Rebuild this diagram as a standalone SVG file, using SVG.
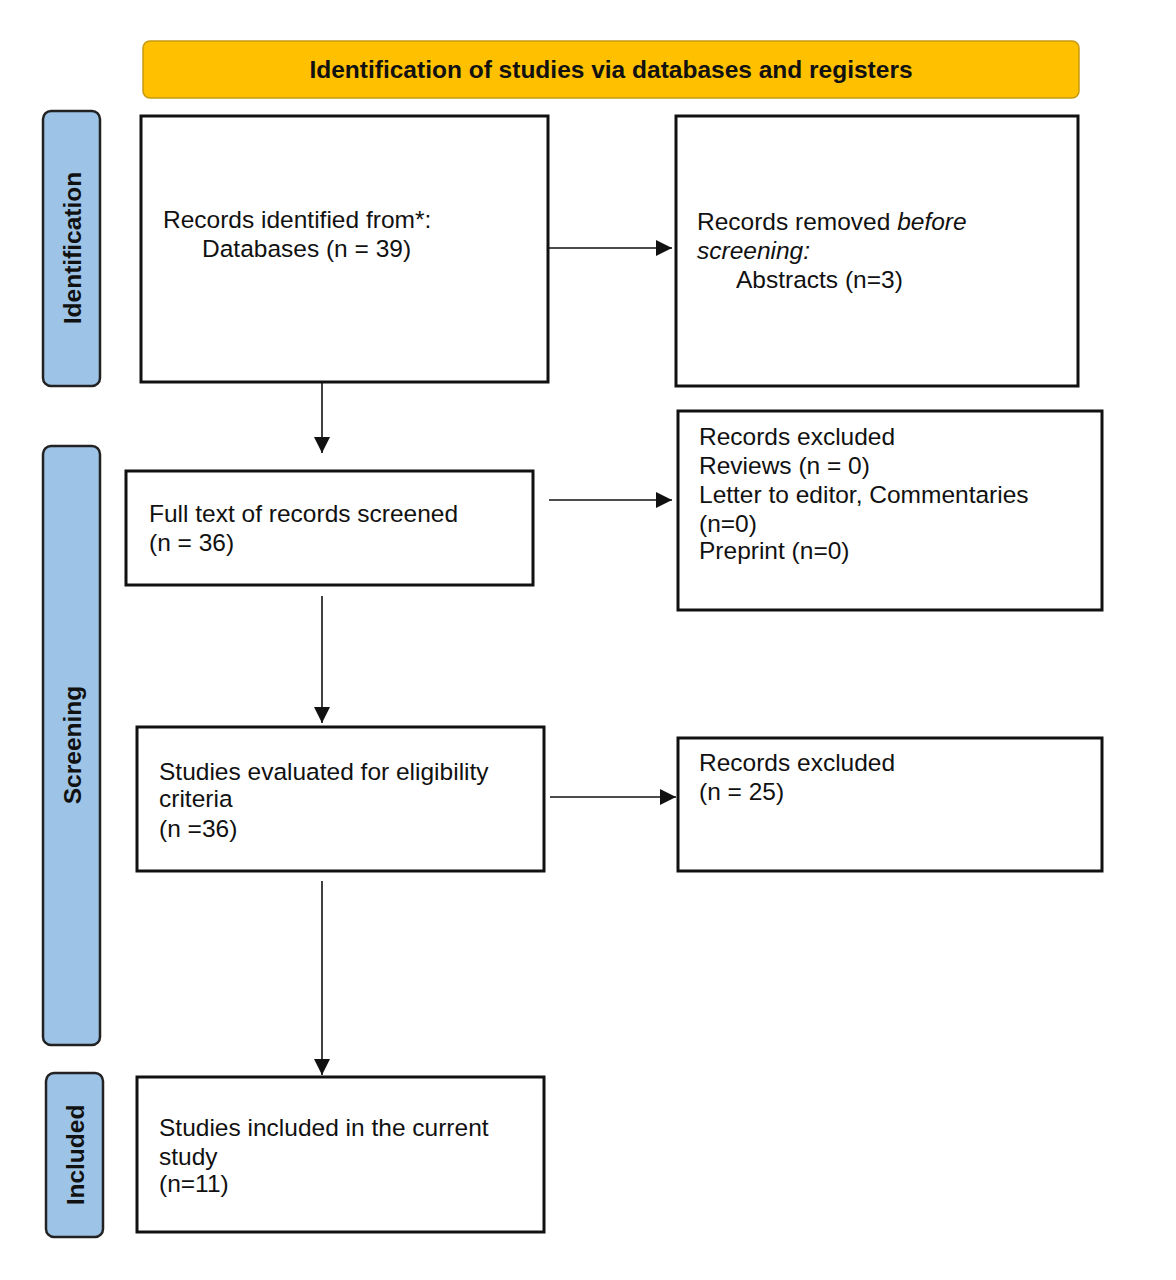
<svg xmlns="http://www.w3.org/2000/svg" width="1176" height="1280" viewBox="0 0 1176 1280">
<style>
.box{fill:#fff;stroke:#111;stroke-width:3}
.side{fill:#9DC3E6;stroke:#222;stroke-width:2.5}
.t{font-family:"Liberation Sans",Arial,sans-serif;font-size:24.5px;fill:#111}
.st{font-family:"Liberation Sans",Arial,sans-serif;font-size:24.5px;font-weight:bold;fill:#111}
.c{stroke:#111;stroke-width:1.6;fill:none;marker-end:url(#ah)}
</style>
<defs>
<marker id="ah" viewBox="0 0 10 10" refX="10" refY="5" markerWidth="16" markerHeight="16" markerUnits="userSpaceOnUse" orient="auto">
<path d="M0,0 L10,5 L0,10 z" fill="#111"/>
</marker>
</defs>
<rect width="1176" height="1280" fill="#fff"/>
<g id="banner">
<rect x="143" y="41" width="936" height="57" rx="7" fill="#FFC000" stroke="#C89A10" stroke-width="1.5"/>
<text class="st" x="611" y="78" text-anchor="middle">Identification of studies via databases and registers</text>
</g>
<g id="side-identification">
<rect class="side" x="43" y="111" width="57" height="275" rx="8"/>
<text class="st" transform="translate(81,248) rotate(-90)" text-anchor="middle">Identification</text>
</g>
<g id="side-screening">
<rect class="side" x="43" y="446" width="57" height="599" rx="8"/>
<text class="st" transform="translate(81,745) rotate(-90)" text-anchor="middle">Screening</text>
</g>
<g id="side-included">
<rect class="side" x="46" y="1073" width="57" height="164" rx="8"/>
<text class="st" transform="translate(84,1155) rotate(-90)" text-anchor="middle">Included</text>
</g>
<g id="n-identified">
<rect class="box" x="141" y="116" width="407" height="266"/>
<text class="t" x="163" y="228">Records identified from*:</text>
<text class="t" x="202" y="257">Databases (n = 39)</text>
</g>
<g id="n-removed">
<rect class="box" x="676" y="116" width="402" height="270"/>
<text class="t" x="697" y="230">Records removed <tspan font-style="italic">before</tspan></text>
<text class="t" x="697" y="259" font-style="italic">screening:</text>
<text class="t" x="736" y="288">Abstracts (n=3)</text>
</g>
<g id="n-fulltext">
<rect class="box" x="126" y="471" width="407" height="114"/>
<text class="t" x="149" y="522">Full text of records screened</text>
<text class="t" x="149" y="551">(n = 36)</text>
</g>
<g id="n-excluded1">
<rect class="box" x="678" y="411" width="424" height="199"/>
<text class="t" x="699" y="445">Records excluded</text>
<text class="t" x="699" y="474">Reviews (n = 0)</text>
<text class="t" x="699" y="503">Letter to editor, Commentaries</text>
<text class="t" x="699" y="532">(n=0)</text>
<text class="t" x="699" y="559">Preprint (n=0)</text>
</g>
<g id="n-eligibility">
<rect class="box" x="137" y="727" width="407" height="144"/>
<text class="t" x="159" y="780">Studies evaluated for eligibility</text>
<text class="t" x="159" y="807">criteria</text>
<text class="t" x="159" y="837">(n =36)</text>
</g>
<g id="n-excluded2">
<rect class="box" x="678" y="738" width="424" height="133"/>
<text class="t" x="699" y="771">Records excluded</text>
<text class="t" x="699" y="800">(n = 25)</text>
</g>
<g id="n-included">
<rect class="box" x="137" y="1077" width="407" height="155"/>
<text class="t" x="159" y="1136">Studies included in the current</text>
<text class="t" x="159" y="1165">study</text>
<text class="t" x="159" y="1192">(n=11)</text>
</g>
<g id="connectors">
<line class="c" x1="548" y1="248" x2="672" y2="248"/>
<line class="c" x1="322" y1="383" x2="322" y2="453"/>
<line class="c" x1="549" y1="500" x2="672" y2="500"/>
<line class="c" x1="322" y1="596" x2="322" y2="723"/>
<line class="c" x1="550" y1="797" x2="676" y2="797"/>
<line class="c" x1="322" y1="881" x2="322" y2="1075"/>
</g>
</svg>
